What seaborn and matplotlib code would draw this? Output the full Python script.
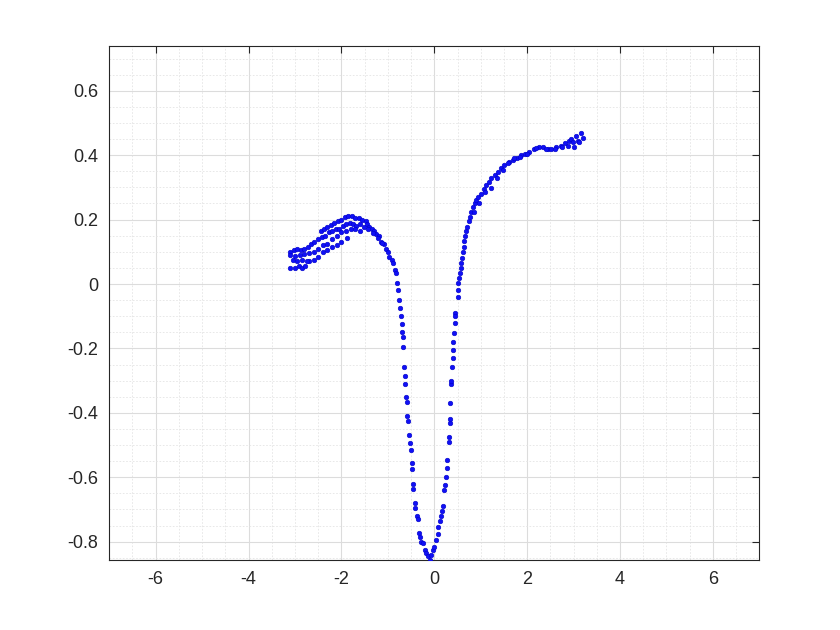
import matplotlib
matplotlib.use("Agg")
import matplotlib.pyplot as plt
from matplotlib.ticker import MultipleLocator
import numpy as np
import pandas as pd
import seaborn as sns

# points (x, y)
loop_top = [(-2.45, 0.165), (-2.38, 0.172), (-2.30, 0.178), (-2.22, 0.183), (-2.15, 0.188),
            (-2.08, 0.195), (-2.00, 0.200), (-1.93, 0.208), (-1.85, 0.212), (-1.78, 0.210),
            (-1.70, 0.205), (-1.62, 0.206), (-1.55, 0.200), (-1.48, 0.195)]
loop_upper = [(-3.10, 0.100), (-3.02, 0.105), (-2.95, 0.110), (-2.88, 0.105), (-2.80, 0.110),
              (-2.72, 0.115), (-2.65, 0.125), (-2.58, 0.130), (-2.50, 0.140), (-2.42, 0.145),
              (-2.35, 0.150), (-2.27, 0.160), (-2.20, 0.165), (-2.12, 0.170), (-2.05, 0.172),
              (-1.97, 0.180), (-1.90, 0.185), (-1.82, 0.190), (-1.75, 0.186), (-1.68, 0.180),
              (-1.60, 0.185), (-1.52, 0.176)]
loop_mid = [(-3.10, 0.090), (-3.00, 0.088), (-2.90, 0.090), (-2.80, 0.092), (-2.70, 0.095),
            (-2.60, 0.100), (-2.50, 0.110), (-2.40, 0.120), (-2.30, 0.125), (-2.20, 0.140),
            (-2.10, 0.150), (-2.00, 0.160), (-1.90, 0.165), (-1.80, 0.170), (-1.70, 0.172),
            (-1.60, 0.165)]
loop_low = [(-3.10, 0.050), (-3.00, 0.050), (-2.92, 0.055), (-2.85, 0.050), (-2.78, 0.055),
            (-2.70, 0.070), (-2.60, 0.075), (-2.50, 0.085), (-2.40, 0.100), (-2.30, 0.105),
            (-2.20, 0.115), (-2.10, 0.120), (-2.00, 0.130), (-1.89, 0.142),
            (-3.05, 0.075), (-2.95, 0.070), (-2.85, 0.075), (-2.75, 0.070)]
fall = [(-1.45, 0.185), (-1.40, 0.178), (-1.35, 0.170), (-1.30, 0.165), (-1.25, 0.155),
        (-1.20, 0.150), (-1.14, 0.131), (-1.08, 0.125), (-1.03, 0.110), (-1.00, 0.100),
        (-0.97, 0.085), (-0.92, 0.075), (-0.89, 0.065), (-0.85, 0.043), (-0.82, 0.033),
        (-1.42, 0.170), (-1.32, 0.158), (-1.22, 0.142), (-1.12, 0.128), (-0.80, 0.002),
        (-0.79, -0.020), (-0.75, -0.050), (-0.73, -0.075), (-0.71, -0.100), (-0.70, -0.125),
        (-0.69, -0.150), (-0.68, -0.165), (-0.67, -0.195), (-0.65, -0.257),
        (-0.63, -0.285), (-0.62, -0.310), (-0.60, -0.350), (-0.59, -0.365),
        (-0.58, -0.410), (-0.57, -0.425), (-0.55, -0.470), (-0.53, -0.495), (-0.51, -0.516),
        (-0.48, -0.557), (-0.47, -0.575), (-0.46, -0.620), (-0.45, -0.635),
        (-0.42, -0.680), (-0.41, -0.695), (-0.37, -0.720), (-0.36, -0.730), (-0.32, -0.774),
        (-0.31, -0.785), (-0.28, -0.800), (-0.25, -0.805), (-0.20, -0.825), (-0.17, -0.836),
        (-0.13, -0.845), (-0.10, -0.857)]
rise = [(-0.06, -0.840), (-0.03, -0.826), (0.00, -0.815), (0.04, -0.795), (0.07, -0.775),
        (0.09, -0.754), (0.12, -0.735), (0.14, -0.720), (0.17, -0.705), (0.19, -0.690),
        (0.22, -0.640), (0.23, -0.625), (0.26, -0.598), (0.27, -0.570),
        (0.28, -0.547), (0.31, -0.490), (0.32, -0.475), (0.33, -0.430),
        (0.34, -0.420), (0.34, -0.370), (0.37, -0.310), (0.37, -0.300),
        (0.39, -0.257), (0.40, -0.230), (0.40, -0.205), (0.41, -0.180), (0.42, -0.153),
        (0.44, -0.120), (0.45, -0.090), (0.45, -0.100), (0.50, -0.040), (0.51, -0.020),
        (0.52, 0.002), (0.54, 0.020), (0.55, 0.033), (0.57, 0.050), (0.58, 0.064),
        (0.60, 0.080), (0.62, 0.100), (0.63, 0.115), (0.65, 0.135), (0.67, 0.150),
        (0.69, 0.165), (0.71, 0.178), (0.74, 0.195), (0.76, 0.209), (0.80, 0.225),
        (0.83, 0.240), (0.87, 0.250), (0.90, 0.260), (0.95, 0.270), (1.01, 0.280),
        (1.06, 0.295), (1.12, 0.307), (1.18, 0.318), (1.23, 0.328), (1.30, 0.340),
        (1.37, 0.349), (1.44, 0.360), (1.51, 0.370), (1.60, 0.378), (1.69, 0.385),
        (1.78, 0.392), (1.87, 0.400), (1.96, 0.405), (2.05, 0.411), (2.15, 0.420),
        (2.26, 0.426), (2.35, 0.425), (2.45, 0.418), (2.52, 0.420), (2.62, 0.425),
        (2.73, 0.430), (2.82, 0.437), (2.90, 0.445), (2.95, 0.450), (3.05, 0.460),
        (3.16, 0.468),
        (0.85, 0.225), (0.97, 0.250), (1.10, 0.285), (1.23, 0.297), (1.35, 0.330),
        (1.47, 0.355), (1.58, 0.375), (1.72, 0.390), (1.85, 0.395), (2.00, 0.405),
        (2.20, 0.422), (2.40, 0.420), (2.60, 0.418), (2.75, 0.425), (2.88, 0.430),
        (3.01, 0.426), (3.10, 0.445), (3.20, 0.452), (3.12, 0.440), (2.98, 0.440)]

pts = loop_top + loop_upper + loop_mid + loop_low + fall + rise
df = pd.DataFrame(pts, columns=["x", "y"])

sns.set_style("white")
plt.rcParams["font.family"] = ["Liberation Sans", "DejaVu Sans"]

fig = plt.figure(figsize=(8.4, 6.3), dpi=100)
ax = fig.add_axes([0.13, 0.111, 0.774, 0.816])

sns.scatterplot(data=df, x="x", y="y", ax=ax, color="#1010f5", s=11,
                edgecolor="#0000c8", linewidth=0.4, zorder=3)

ax.set_xlim(-7, 7)
ax.set_ylim(-0.857, 0.739)
ax.xaxis.set_minor_locator(MultipleLocator(0.5))
ax.yaxis.set_minor_locator(MultipleLocator(0.05))
ax.set_yticks([-0.8, -0.6, -0.4, -0.2, 0, 0.2, 0.4, 0.6])
ax.set_yticklabels(["-0.8", "-0.6", "-0.4", "-0.2", "0", "0.2", "0.4", "0.6"])
ax.set_xticks([-6, -4, -2, 0, 2, 4, 6])
ax.set_xticklabels(["-6", "-4", "-2", "0", "2", "4", "6"])

ax.grid(True, which="major", color="#dcdcdc", linewidth=0.8, zorder=0)
ax.grid(True, which="minor", color="#e4e4e4", linewidth=0.6, linestyle=(0, (2, 2)), zorder=0)
ax.set_axisbelow(True)

ax.tick_params(which="major", direction="in", length=5, width=0.8, top=True, right=True,
               labelsize=13, colors="#262626", pad=8)
ax.tick_params(which="minor", length=0, top=True, right=True)
for sp in ax.spines.values():
    sp.set_color("#262626")
    sp.set_linewidth(0.8)

ax.set_xlabel("")
ax.set_ylabel("")

fig.savefig("out.png", dpi=100, facecolor="white")
